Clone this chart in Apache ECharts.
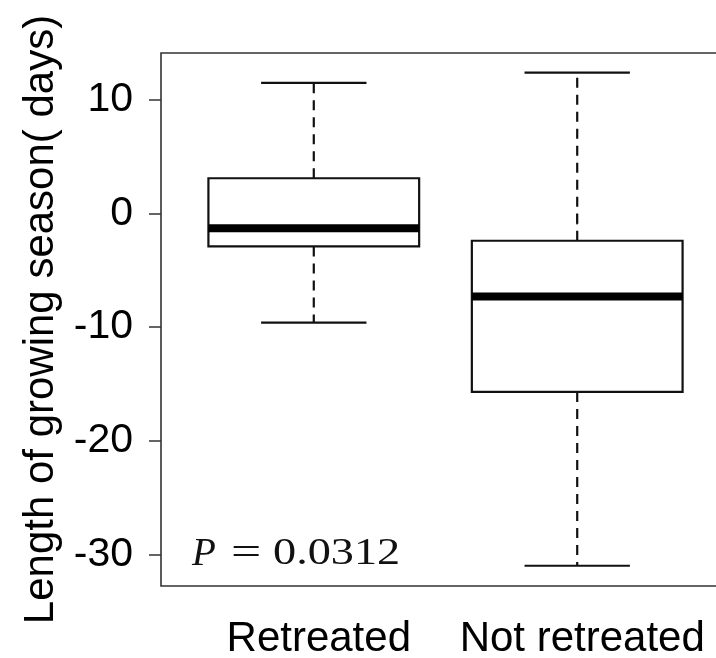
<!DOCTYPE html>
<html>
<head>
<meta charset="utf-8">
<script src="https://cdn.jsdelivr.net/npm/echarts@6/dist/echarts.min.js"></script>
<style>html,body{margin:0;padding:0;background:#fff;}#c{width:716px;height:658px;}</style>
</head>
<body>
<div id="c"></div>
<script>
var categories = ['Retreated', 'Not retreated'];
// [lower whisker, Q1, median, Q3, upper whisker]
var retreatedStats = [-9.6, -2.9, -1.3, 3.1, 11.5];
var notRetreatedStats = [-31.0, -15.7, -7.3, -2.4, 12.4];
var yTicks = [-30, -20, -10, 0, 10];
var pText = '0.0312';

var stats = [retreatedStats, notRetreatedStats];
var data = stats.map(function (s, i) { return [i + 1].concat(s); });

var serif = 'Liberation Serif, Times New Roman, serif';
var sans = 'Liberation Sans, Arial, sans-serif';

var chart = echarts.init(document.getElementById('c'), null, {renderer: 'canvas'});
chart.setOption({
  backgroundColor: '#fff',
  animation: false,
  grid: {left: 161, top: 53, width: 569, height: 533, show: true, borderColor: '#333', borderWidth: 1.6,
    backgroundColor: 'transparent', containLabel: false, outerBoundsMode: 'none'},
  xAxis: {
    type: 'value', min: 0.42, max: 2.58,
    axisLine: {show: false},
    splitLine: {show: false},
    axisTick: {show: true, customValues: [1, 2], length: 11, inside: false, lineStyle: {color: '#333', width: 1.5}},
    axisLabel: {customValues: [1, 2], margin: 32, color: '#000', fontFamily: sans, fontSize: 42, padding: [0, 0, 0, 10],
      formatter: function (v) { return categories[Math.round(v) - 1] || ''; }}
  },
  yAxis: {
    type: 'value', min: -32.78, max: 14.12,
    name: 'Length of growing season( days)', nameLocation: 'middle', nameGap: 94, nameRotate: 90,
    nameTextStyle: {color: '#000', fontFamily: sans, fontSize: 42},
    axisLine: {show: false},
    splitLine: {show: false},
    axisTick: {show: true, customValues: yTicks, length: 12, lineStyle: {color: '#333', width: 1.5}},
    axisLabel: {customValues: yTicks, margin: 28, color: '#000', fontFamily: sans, fontSize: 41}
  },
  series: [{
    type: 'custom',
    data: data,
    encode: {x: 0, y: [1, 2, 3, 4, 5]},
    renderItem: function (params, api) {
      var x = api.value(0);
      var lo = api.coord([x, api.value(1)]);
      var q1 = api.coord([x, api.value(2)]);
      var md = api.coord([x, api.value(3)]);
      var q3 = api.coord([x, api.value(4)]);
      var hi = api.coord([x, api.value(5)]);
      var bw = api.size([0.8, 0])[0];
      var cw = bw / 2;
      var cx = lo[0];
      var dash = {stroke: '#111', lineWidth: 2.2, lineDash: [10, 7]};
      var solid = {stroke: '#111', lineWidth: 2.2};
      return {
        type: 'group',
        children: [
          {type: 'line', shape: {x1: cx, y1: q3[1], x2: cx, y2: hi[1]}, style: dash},
          {type: 'line', shape: {x1: cx, y1: q1[1], x2: cx, y2: lo[1]}, style: dash},
          {type: 'line', shape: {x1: cx - cw / 2, y1: hi[1], x2: cx + cw / 2, y2: hi[1]}, style: solid},
          {type: 'line', shape: {x1: cx - cw / 2, y1: lo[1], x2: cx + cw / 2, y2: lo[1]}, style: solid},
          {type: 'rect', shape: {x: cx - bw / 2, y: q3[1], width: bw, height: q1[1] - q3[1]}, style: {fill: '#fff', stroke: '#111', lineWidth: 2.2}},
          {type: 'line', shape: {x1: cx - bw / 2, y1: md[1], x2: cx + bw / 2, y2: md[1]}, style: {stroke: '#000', lineWidth: 8}}
        ]
      };
    }
  }],
  graphic: [
    {type: 'text', x: 192, y: 535, style: {text: 'P', fontFamily: serif, fontStyle: 'italic', fontSize: 39, fill: '#111'}},
    {type: 'text', x: 231, y: 536, scaleX: 1.45, style: {text: '=', fontFamily: serif, fontSize: 37, fill: '#111'}},
    {type: 'text', x: 273, y: 536, scaleX: 1.25, style: {text: pText, fontFamily: serif, fontSize: 37, fill: '#111'}}
  ]
});
</script>
</body>
</html>
